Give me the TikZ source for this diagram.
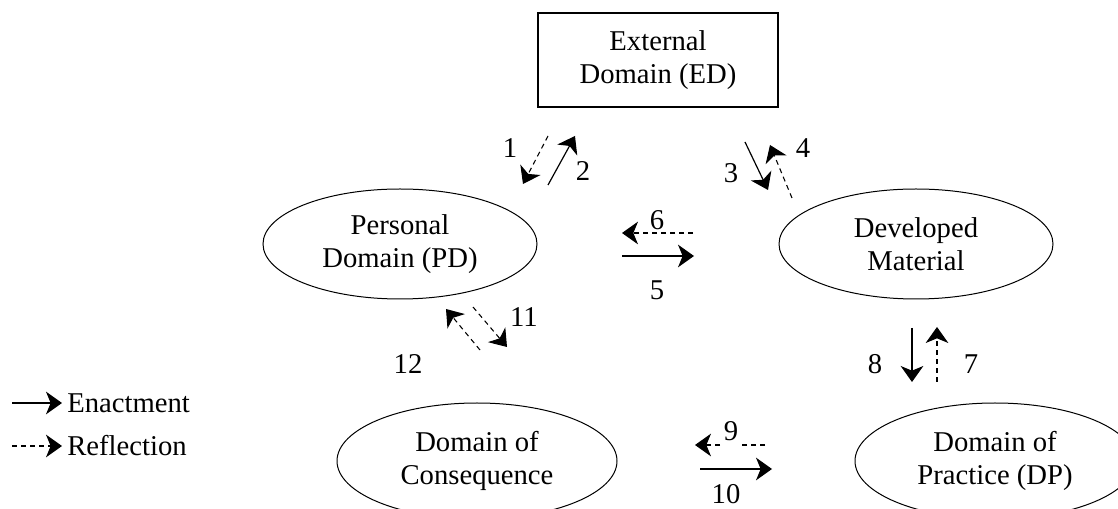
\documentclass[tikz,border=0pt]{standalone}
\usepackage{fontspec}
\setmainfont{Liberation Serif}
\usetikzlibrary{arrows.meta,shapes.geometric}
\begin{document}
\begin{tikzpicture}[x=0.75pt,y=-0.75pt,
  every node/.style={font=\fontsize{21.5}{25}\selectfont},
  dom/.style={ellipse,draw,line width=0.75pt,inner sep=0pt,align=center,minimum width=205.5pt,minimum height=82.5pt},
  lowdom/.style={dom,minimum width=210pt,minimum height=87pt},
  boxdom/.style={draw,line width=0.8pt,align=center,minimum width=180pt,minimum height=70.5pt,inner sep=0pt},
  enact/.style={line width=0.9pt,-{Stealth[length=12pt,width=17pt,inset=3.5pt]}},
  reflect/.style={line width=0.8pt,dash pattern=on 3.75pt off 3pt,-{Stealth[length=12pt,width=17pt,inset=3.5pt]}},
  num/.style={inner sep=1pt}
]
\useasboundingbox (0,0) rectangle (1118,509);
\clip (0,0) rectangle (1118,509);

% domains
\node[boxdom] (ed) at (658,60) {External\\Domain (ED)};
\node[dom] (pd) at (400,244) {Personal\\Domain (PD)};
\node[dom] (dm) at (916,244) {Developed\\Material};
\node[lowdom] (dc) at (477,461) {Domain of\\Consequence};
\node[lowdom] (dp) at (995,461) {Domain of\\Practice (DP)};

% arrow end points
\coordinate (a1s) at (548,136); \coordinate (a1e) at (523,184);
\coordinate (a2s) at (548,185); \coordinate (a2e) at (575,136);
\coordinate (a3s) at (745,142); \coordinate (a3e) at (768,190);
\coordinate (a4s) at (792,198); \coordinate (a4e) at (770,145);
\coordinate (a6s) at (693,233); \coordinate (a6e) at (622,233);
\coordinate (a5s) at (622,256); \coordinate (a5e) at (694,256);
\coordinate (a12s) at (480,350); \coordinate (a12e) at (446,309);
\coordinate (a11s) at (473,307); \coordinate (a11e) at (507,347);
\coordinate (a8s) at (912,328); \coordinate (a8e) at (912,382);
\coordinate (a7s) at (937,382); \coordinate (a7e) at (937,327);
\coordinate (a9s) at (765,445); \coordinate (a9e) at (695,445);
\coordinate (a10s) at (700,469); \coordinate (a10e) at (772,469);

\draw[reflect] (a1s) -- (a1e);
\draw[enact] (a2s) -- (a2e);
\draw[enact] (a3s) -- (a3e);
\draw[reflect] (a4s) -- (a4e);
\draw[reflect] (a6s) -- (a6e);
\draw[enact] (a5s) -- (a5e);
\draw[reflect] (a12s) -- (a12e);
\draw[reflect] (a11s) -- (a11e);
\draw[enact] (a8s) -- (a8e);
\draw[reflect] (a7s) -- (a7e);
\draw[reflect] (a9s) -- (a9e);
\draw[enact] (a10s) -- (a10e);

% labels
\node[num] (l1) at (510,148) {1};
\node[num] (l2) at (583,171) {2};
\node[num] (l3) at (731,173) {3};
\node[num] (l4) at (803,148) {4};
\node[num] (l6) at (657,220) {6};
\node[num] (l5) at (657,290) {5};
\node[num] (l11) at (524,317) {11};
\node[num] (l12) at (408,364) {12};
\node[num] (l8) at (875,364) {8};
\node[num] (l7) at (971,364) {7};
\node[fill=white,inner xsep=2pt,inner ysep=6pt] (l9) at (731,431) {9};
\node[num] (l10) at (726,494) {10};

% legend
\coordinate (le1s) at (12,403); \coordinate (le1e) at (62,403);
\coordinate (le2s) at (12,446); \coordinate (le2e) at (62,446);
\draw[enact] (le1s) -- (le1e);
\draw[reflect] (le2s) -- (le2e);
\node[anchor=west,inner sep=0pt] (lg1) at (67,403) {Enactment};
\node[anchor=west,inner sep=0pt] (lg2) at (67,446) {Reflection};
\end{tikzpicture}
\end{document}
